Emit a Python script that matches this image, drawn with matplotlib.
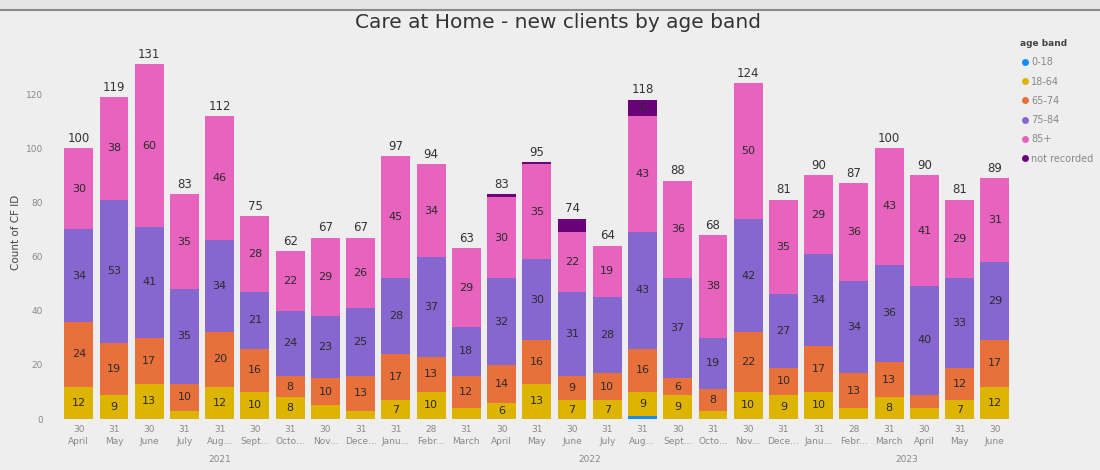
import matplotlib.pyplot as plt
from matplotlib.lines import Line2D
import numpy as np

# month axis: day of month end, short month name, year group
days = [30, 31, 30, 31, 31, 30, 31, 30, 31,
        31, 28, 31, 30, 31, 30, 31, 31, 30, 31, 30, 31,
        31, 28, 31, 30, 31, 30]
months = ["April", "May", "June", "July", "Aug...", "Sept...", "Octo...", "Nov...", "Dece...",
          "Janu...", "Febr...", "March", "April", "May", "June", "July", "Aug...", "Sept...",
          "Octo...", "Nov...", "Dece...",
          "Janu...", "Febr...", "March", "April", "May", "June"]
years = ["2021"] * 9 + ["2022"] * 12 + ["2023"] * 6

# new clients per age band
age_0_18 = [0, 0, 0, 0, 0, 0, 0, 0, 0,
            0, 0, 0, 0, 0, 0, 0, 1, 0, 0, 0, 0,
            0, 0, 0, 0, 0, 0]
age_18_64 = [12, 9, 13, 3, 12, 10, 8, 5, 3,
             7, 10, 4, 6, 13, 7, 7, 9, 9, 3, 10, 9,
             10, 4, 8, 4, 7, 12]
age_65_74 = [24, 19, 17, 10, 20, 16, 8, 10, 13,
             17, 13, 12, 14, 16, 9, 10, 16, 6, 8, 22, 10,
             17, 13, 13, 5, 12, 17]
age_75_84 = [34, 53, 41, 35, 34, 21, 24, 23, 25,
             28, 37, 18, 32, 30, 31, 28, 43, 37, 19, 42, 27,
             34, 34, 36, 40, 33, 29]
age_85_plus = [30, 38, 60, 35, 46, 28, 22, 29, 26,
               45, 34, 29, 30, 35, 22, 19, 43, 36, 38, 50, 35,
               29, 36, 43, 41, 29, 31]
not_recorded = [0, 0, 0, 0, 0, 0, 0, 0, 0,
                0, 0, 0, 1, 1, 5, 0, 6, 0, 0, 0, 0,
                0, 0, 0, 0, 0, 0]

bands = ["0-18", "18-64", "65-74", "75-84", "85+", "not recorded"]
series = [age_0_18, age_18_64, age_65_74, age_75_84, age_85_plus, not_recorded]
colors = ["#118DFF", "#DDB400", "#E8703A", "#8667D0", "#E763BE", "#6B007B"]

BG = "#EEEEEE"
TXT = "#2B2B2B"

fig = plt.figure(figsize=(11, 4.7), dpi=100, facecolor=BG)
ax = fig.add_axes([0.054, 0.1085, 0.868, 0.795], facecolor=BG)

x = np.arange(len(days))
bottom = np.zeros(len(days))
for vals, col in zip(series, colors):
    vals = np.array(vals)
    ax.bar(x, vals, 0.82, bottom=bottom, color=col, linewidth=0)
    for xi, v, b in zip(x, vals, bottom):
        if v >= 6:
            ax.text(xi, b + v / 2, str(v), ha="center", va="center",
                    fontsize=8, color=TXT)
    bottom += vals

for xi, tot in zip(x, bottom):
    ax.text(xi, tot + 1.2, str(int(tot)), ha="center", va="bottom",
            fontsize=8.5, color="#333333")

ax.set_xlim(-0.55, len(days) - 0.45)
ax.set_ylim(0, 138)
ax.set_yticks(range(0, 121, 20))
ax.tick_params(axis="y", length=0, labelsize=6.5, labelcolor="#888888", pad=12)
ax.set_xticks(x)
ax.set_xticklabels([f"{d}\n{m}" for d, m in zip(days, months)],
                   fontsize=6.5, color="#888888", linespacing=1.5)
ax.tick_params(axis="x", length=0, pad=4)
for s in ax.spines.values():
    s.set_visible(False)

ax.set_ylabel("Count of CF ID", fontsize=7.5, color="#444444", labelpad=3)

# year labels centred under each group of months
for yr in ["2021", "2022", "2023"]:
    idx = [i for i, y in enumerate(years) if y == yr]
    ax.text(np.mean(idx), -0.095, yr, transform=ax.get_xaxis_transform(),
            ha="center", va="top", fontsize=6.5, color="#888888")

fig.text(0.507, 0.953, "Care at Home - new clients by age band", ha="center", va="center",
         fontsize=14.5, color="#333333")

# header strip along the top edge
fig.add_artist(Line2D([0, 1], [0.978, 0.978], transform=fig.transFigure,
                      color="#8A8A8A", linewidth=1.5))
fig.patches.append(plt.Rectangle((0, 0.98), 1, 0.02, transform=fig.transFigure,
                                 color="#E4E4E4", zorder=0))

handles = [Line2D([], [], marker="o", linestyle="", markersize=5,
                  markerfacecolor=c, markeredgewidth=0) for c in colors]
leg = fig.legend(handles, bands, loc="upper left", bbox_to_anchor=(0.924, 0.925),
                 frameon=False, fontsize=7, title="age band", title_fontsize=6.5,
                 handletextpad=0.1, labelspacing=0.95, borderaxespad=0,
                 handlelength=1.0, alignment="left")
leg.get_title().set_fontweight("bold")
leg.get_title().set_color("#444444")
for t in leg.get_texts():
    t.set_color("#888888")

fig.savefig("out.png", dpi=100, facecolor=BG)
